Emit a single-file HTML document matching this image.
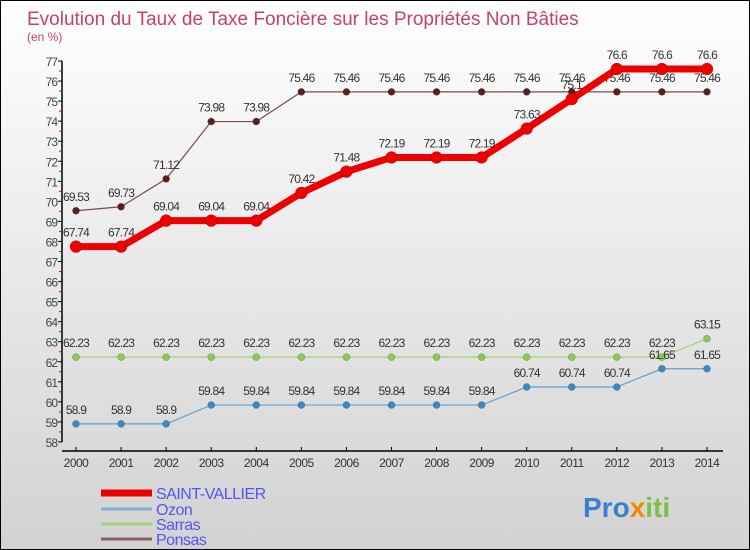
<!DOCTYPE html>
<html><head><meta charset="utf-8"><style>
body{margin:0}
#c{width:750px;height:550px;position:relative;box-sizing:border-box;border:1px solid #000;background:linear-gradient(#ffffff,#d2d2d2);font-family:"Liberation Sans",sans-serif;overflow:hidden}
</style></head><body>
<div id="c">
<svg id="s" width="748" height="548" style="position:absolute;left:0;top:0"></svg>
</div>
<script>
const years=[2000,2001,2002,2003,2004,2005,2006,2007,2008,2009,2010,2011,2012,2013,2014];
const saint=[67.74,67.74,69.04,69.04,69.04,70.42,71.48,72.19,72.19,72.19,73.63,75.1,76.6,76.6,76.6];
const saintLbl=["67.74","67.74","69.04","69.04","69.04","70.42","71.48","72.19","72.19","72.19","73.63","75.1","76.6","76.6","76.6"];
const ozon=[58.9,58.9,58.9,59.84,59.84,59.84,59.84,59.84,59.84,59.84,60.74,60.74,60.74,61.65,61.65];
const sarras=[62.23,62.23,62.23,62.23,62.23,62.23,62.23,62.23,62.23,62.23,62.23,62.23,62.23,62.23,63.15];
const ponsas=[69.53,69.73,71.12,73.98,73.98,75.46,75.46,75.46,75.46,75.46,75.46,75.46,75.46,75.46,75.46];
const yTicks=[58,59,60,61,62,63,64,65,66,67,68,69,70,71,72,73,74,75,76,77];
const NS="http://www.w3.org/2000/svg";
const svg=document.getElementById('s');
const X=i=>75+i*45.07;
const Y=v=>60+(77-v)*20.05;
function el(t,a,p){const e=document.createElementNS(NS,t);for(const k in a)e.setAttribute(k,a[k]);(p||svg).appendChild(e);return e;}
function txt(x,y,s,a){const e=el('text',Object.assign({x:x,y:y,'font-size':12,fill:'#333','font-family':'Liberation Sans, sans-serif'},a||{}));e.textContent=s;return e;}
let t=txt(26,24,"Evolution du Taux de Taxe Foncière sur les Propriétés Non Bâties",{'font-size':19,fill:'#c8406a'});


t=txt(26,40,"(en %)",{'font-size':12,fill:'#c8406a'});


let ax=el('line',{x1:61,y1:Y(77),x2:61,y2:Y(58),stroke:'#000','stroke-width':1.5});


yTicks.forEach(v=>{
 el('line',{x1:57,x2:61,y1:Y(v),y2:Y(v),stroke:'#000'});
 if(v<77)el('line',{x1:58,x2:61,y1:Y(v+0.5),y2:Y(v+0.5),stroke:'#e00'});
 const l=txt(56,Y(v)+5,String(v),{'text-anchor':'end','font-size':12,fill:'#444','letter-spacing':'-1'});
 
 
});
let xa=el('line',{x1:61,y1:450,x2:722,y2:450,stroke:'#000','stroke-width':1.5});


years.forEach((yr,i)=>{
 el('line',{x1:X(i),x2:X(i),y1:446,y2:450,stroke:'#000'});
 const l=txt(X(i),466,String(yr),{'text-anchor':'middle','font-size':12,fill:'#333','letter-spacing':'-0.5'});
 
 
});
function series(name,data,labels,color,dot,w,r,fs){
 const g=el('g',{});
 
 
 el('polyline',{points:data.map((v,i)=>X(i)+','+Y(v)).join(' '),fill:'none',stroke:color,'stroke-width':w},g);
 data.forEach((v,i)=>{
  const c=el('circle',{cx:X(i),cy:Y(v),r:r,fill:dot,stroke:'rgba(0,0,0,0.3)','stroke-width':0.5},g);
  
  
  const l=txt(X(i),Y(v)-10,labels?labels[i]:String(v),{'text-anchor':'middle','font-size':fs,fill:'#333','letter-spacing':'-0.8'});
  
  
 });
}
series('ponsas',ponsas,null,'#7a4a4a','#5a1f1f',1.2,3.5,12);
series('sarras',sarras,null,'#9fd27a','#86cc4e',1.2,3.5,12);
series('ozon',ozon,null,'#5ea0d0','#3a88c4',1.2,3.5,12);
series('saint-vallier',saint,saintLbl,'#ee0000','#ee0000',7,6,12);
const leg=[['SAINT-VALLIER','#ee0000',7,492],['Ozon','#7fb0d6',3,508],['Sarras','#9fd27a',3,523],['Ponsas','#8a6060',3,538]];
leg.forEach(([n,c,w,y])=>{
 const g=el('g',{});
 
 
 el('line',{x1:100,x2:151,y1:y,y2:y,stroke:c,'stroke-width':w},g);
 const l=txt(155,y+6,n,{'font-size':16,fill:'#5555ee','letter-spacing':'-0.5'});
 g.appendChild(l);
});
const lg=txt(582,516,"",{'font-size':28,'font-weight':'bold'});


[['Pro','#3a7fd0'],['x','#f08a00'],['iti','#7cc04a']].forEach(([s,c])=>{const sp=el('tspan',{fill:c},lg);sp.textContent=s;});
</script>
</body></html>
